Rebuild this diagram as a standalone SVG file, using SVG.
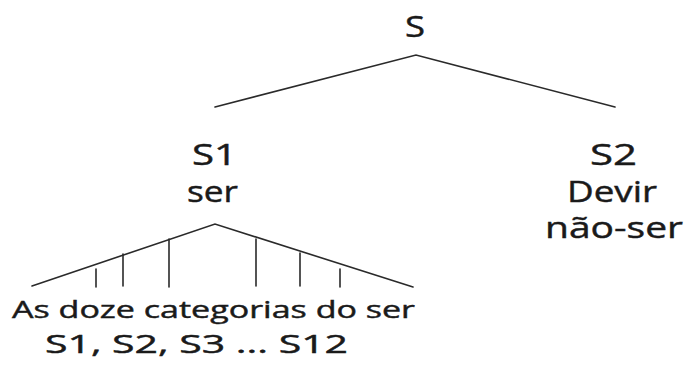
<svg xmlns="http://www.w3.org/2000/svg" width="686" height="367" viewBox="0 0 686 367">
  <style>
    text { font-family: "Open Sans", "Noto Sans", "DejaVu Sans", sans-serif; fill: #1a1a1a; stroke: #1a1a1a; stroke-width: 0.45; text-anchor: middle; }
    .big { font-size: 30px; }
    .mid { font-size: 24px; }
    .low { font-size: 25px; }
    .edge { stroke: #2a2a2a; stroke-width: 1.6; fill: none; stroke-linecap: round; }
  </style>
  <rect width="686" height="367" fill="#ffffff"/>

  <g id="connectors">
    <!-- S to S1 / S2 -->
    <polyline class="edge" points="215,107 416,55 615,107"/>
    <!-- S1 to its twelve categories -->
    <polyline class="edge" points="32,286 215,224 413,287"/>
    <line class="edge" x1="96" y1="269" x2="96" y2="287"/>
    <line class="edge" x1="123" y1="254" x2="123" y2="286"/>
    <line class="edge" x1="169" y1="239" x2="169" y2="287"/>
    <line class="edge" x1="256" y1="239" x2="256" y2="286"/>
    <line class="edge" x1="300" y1="253" x2="300" y2="286"/>
    <line class="edge" x1="340" y1="269" x2="340" y2="287"/>
  </g>

  <g id="node-s">
    <text class="big" x="415" y="37" textLength="20" lengthAdjust="spacingAndGlyphs">S</text>
  </g>

  <g id="node-s1">
    <text class="big" x="214.5" y="165" textLength="45" lengthAdjust="spacingAndGlyphs">S1</text>
    <text class="big" x="212.5" y="202" textLength="51" lengthAdjust="spacingAndGlyphs">ser</text>
  </g>

  <g id="node-s2">
    <text class="big" x="613.5" y="165" textLength="47" lengthAdjust="spacingAndGlyphs">S2</text>
    <text class="big" x="612" y="202" textLength="90" lengthAdjust="spacingAndGlyphs">Devir</text>
    <text class="big" x="614" y="238" textLength="138" lengthAdjust="spacingAndGlyphs">não-ser</text>
  </g>

  <g id="node-categorias">
    <text class="mid" x="213.5" y="318" textLength="403" lengthAdjust="spacingAndGlyphs">As doze categorias do ser</text>
    <text class="low" x="196.5" y="353" textLength="303" lengthAdjust="spacingAndGlyphs">S1, S2, S3 ... S12</text>
  </g>
</svg>
